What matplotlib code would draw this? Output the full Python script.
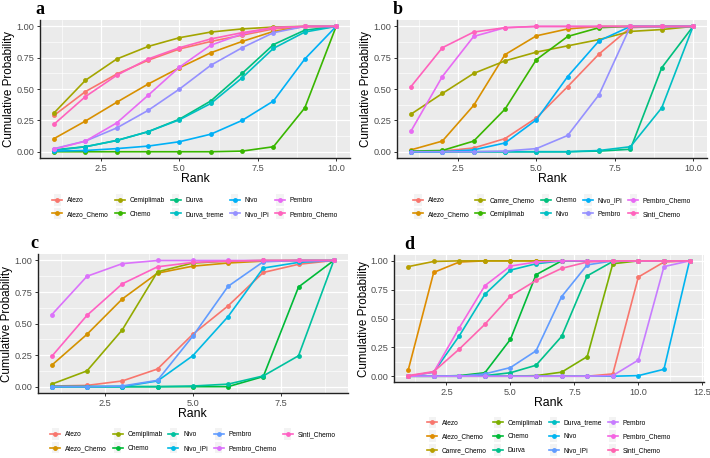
import numpy as np
import matplotlib.pyplot as plt
from matplotlib.legend_handler import HandlerLine2D
from matplotlib.patches import Rectangle
from matplotlib.ticker import MultipleLocator

plt.rcParams['font.family'] = ['Liberation Sans', 'DejaVu Sans']

#######
# DATA
#######
names_a = ["Atezo", "Atezo_Chemo", "Cemiplimab", "Chemo", "Durva", "Durva_treme",
           "Nivo", "Nivo_IPi", "Pembro", "Pembro_Chemo"]
colors_a = ["#F8766D", "#D89000", "#A3A500", "#39B600", "#00BF7D", "#00BFC4",
            "#00B0F6", "#9590FF", "#E76BF3", "#FF62BC"]
vals_a = [
    [0.29, 0.48, 0.62, 0.73, 0.82, 0.88, 0.93, 0.98, 1.0, 1.0],
    [0.105, 0.245, 0.395, 0.54, 0.67, 0.79, 0.88, 0.96, 1.0, 1.0],
    [0.31, 0.57, 0.74, 0.84, 0.91, 0.955, 0.98, 0.995, 1.0, 1.0],
    [0.0, 0.0, 0.0, 0.0, 0.0, 0.0, 0.005, 0.04, 0.35, 1.0],
    [0.015, 0.04, 0.09, 0.16, 0.26, 0.405, 0.625, 0.855, 0.97, 1.0],
    [0.01, 0.04, 0.09, 0.16, 0.255, 0.385, 0.59, 0.825, 0.955, 1.0],
    [0.005, 0.01, 0.025, 0.045, 0.08, 0.14, 0.25, 0.405, 0.74, 1.0],
    [0.025, 0.085, 0.19, 0.33, 0.50, 0.69, 0.83, 0.95, 1.0, 1.0],
    [0.02, 0.085, 0.23, 0.45, 0.675, 0.85, 0.94, 0.99, 1.0, 1.0],
    [0.22, 0.44, 0.61, 0.74, 0.83, 0.90, 0.95, 0.99, 1.0, 1.0],
]

names_b = ["Atezo", "Atezo_Chemo", "Camre_Chemo", "Cemiplimab", "Chemo", "Nivo",
           "Nivo_IPi", "Pembro", "Pembro_Chemo", "Sinti_Chemo"]
colors_b = colors_a
vals_b = [
    [0.0, 0.005, 0.03, 0.105, 0.27, 0.52, 0.78, 0.99, 1.0, 1.0],
    [0.015, 0.085, 0.37, 0.775, 0.925, 0.98, 1.0, 1.0, 1.0, 1.0],
    [0.30, 0.465, 0.625, 0.725, 0.795, 0.845, 0.895, 0.96, 0.975, 1.0],
    [0.005, 0.01, 0.085, 0.34, 0.735, 0.92, 0.99, 1.0, 1.0, 1.0],
    [0.0, 0.0, 0.0, 0.0, 0.0, 0.0, 0.005, 0.02, 0.67, 1.0],
    [0.0, 0.0, 0.0, 0.0, 0.0, 0.0, 0.01, 0.04, 0.35, 1.0],
    [0.0, 0.0, 0.015, 0.07, 0.255, 0.60, 0.885, 1.0, 1.0, 1.0],
    [0.0, 0.0, 0.0, 0.005, 0.025, 0.13, 0.455, 1.0, 1.0, 1.0],
    [0.165, 0.60, 0.92, 0.99, 1.0, 1.0, 1.0, 1.0, 1.0, 1.0],
    [0.52, 0.83, 0.955, 0.99, 1.0, 1.0, 1.0, 1.0, 1.0, 1.0],
]

names_c = ["Atezo", "Atezo_Chemo", "Cemiplimab", "Chemo", "Nivo", "Nivo_IPi",
           "Pembro", "Pembro_Chemo", "Sinti_Chemo"]
colors_c = ["#F8766D", "#D39200", "#93AA00", "#00BA38", "#00C19F", "#00B9E3",
            "#619CFF", "#DB72FB", "#FF61C3"]
vals_c = [
    [0.005, 0.01, 0.045, 0.14, 0.415, 0.64, 0.905, 0.97, 1.0],
    [0.17, 0.415, 0.695, 0.90, 0.955, 0.98, 0.995, 1.0, 1.0],
    [0.02, 0.125, 0.45, 0.91, 0.98, 0.995, 1.0, 1.0, 1.0],
    [0.0, 0.0, 0.0, 0.0, 0.0, 0.0, 0.08, 0.79, 1.0],
    [0.0, 0.0, 0.0, 0.0, 0.005, 0.02, 0.085, 0.245, 1.0],
    [0.0, 0.0, 0.0, 0.045, 0.245, 0.555, 0.94, 0.985, 1.0],
    [0.0, 0.0, 0.005, 0.05, 0.40, 0.795, 0.99, 1.0, 1.0],
    [0.57, 0.875, 0.975, 1.0, 1.0, 1.0, 1.0, 1.0, 1.0],
    [0.24, 0.565, 0.815, 0.95, 0.985, 0.995, 1.0, 1.0, 1.0],
]

names_d = ["Atezo", "Atezo_Chemo", "Camre_Chemo", "Cemiplimab", "Chemo", "Durva",
           "Durva_treme", "Nivo", "Nivo_IPi", "Pembro", "Pembro_Chemo", "Sinti_Chemo"]
colors_d = ["#F8766D", "#DE8C00", "#B79F00", "#7CAE00", "#00BA38", "#00C08B",
            "#00BFC4", "#00B4F0", "#619CFF", "#C77CFF", "#F564E3", "#FF64B0"]
vals_d = [
    [0, 0, 0, 0, 0, 0, 0, 0, 0.02, 0.86, 0.99, 1.0],
    [0.05, 0.90, 0.99, 1.0, 1.0, 1.0, 1.0, 1.0, 1.0, 1.0, 1.0, 1.0],
    [0.95, 0.995, 1.0, 1.0, 1.0, 1.0, 1.0, 1.0, 1.0, 1.0, 1.0, 1.0],
    [0, 0, 0, 0, 0, 0.005, 0.035, 0.17, 0.975, 1.0, 1.0, 1.0],
    [0, 0, 0.005, 0.03, 0.32, 0.88, 1.0, 1.0, 1.0, 1.0, 1.0, 1.0],
    [0, 0, 0, 0.005, 0.03, 0.095, 0.345, 0.87, 0.995, 1.0, 1.0, 1.0],
    [0.0, 0.035, 0.35, 0.71, 0.92, 0.975, 1.0, 1.0, 1.0, 1.0, 1.0, 1.0],
    [0, 0, 0, 0, 0, 0, 0, 0, 0, 0.005, 0.06, 1.0],
    [0, 0, 0, 0.02, 0.075, 0.22, 0.69, 0.965, 1.0, 1.0, 1.0, 1.0],
    [0, 0, 0, 0, 0, 0, 0, 0, 0.005, 0.14, 0.95, 1.0],
    [0.0, 0.035, 0.42, 0.785, 0.955, 0.99, 1.0, 1.0, 1.0, 1.0, 1.0, 1.0],
    [0.005, 0.04, 0.235, 0.45, 0.695, 0.83, 0.935, 0.99, 1.0, 1.0, 1.0, 1.0],
]


#######
# LEGEND KEY WITH GREY BOX (like ggplot)
#######
class KeyHandler(HandlerLine2D):
    def create_artists(self, legend, orig_handle, xdescent, ydescent,
                       width, height, fontsize, trans):
        arts = super().create_artists(legend, orig_handle, xdescent, ydescent,
                                      width, height, fontsize, trans)
        box = Rectangle((-xdescent + 1, -ydescent - 2.5), width - 2, height + 5,
                        facecolor="#F3F3F3", edgecolor="none", transform=trans)
        return [box] + list(arts)


def draw_panel(fig, rect, names, colors, vals, label, ncol, leg_y, label_dx=0.0):
    ax = fig.add_axes(rect)
    n = len(vals[0])
    ranks = np.arange(1, n + 1)
    handles = []
    for name, col, v in zip(names, colors, vals):
        h, = ax.plot(ranks, v, color=col, lw=1.2, marker="o", ms=3.5,
                     markeredgewidth=0, label=name)
        handles.append(h)

    ax.set_facecolor("#EBEBEB")
    span = n - 1
    ax.set_xlim(1 - 0.05 * span, n + 0.05 * span)
    ax.set_ylim(-0.05, 1.05)
    ax.xaxis.set_major_locator(MultipleLocator(2.5))
    ax.xaxis.set_minor_locator(MultipleLocator(1.25))
    ax.yaxis.set_major_locator(MultipleLocator(0.25))
    ax.yaxis.set_minor_locator(MultipleLocator(0.125))
    ax.xaxis.set_major_formatter(lambda x, p: "%.1f" % x)
    ax.yaxis.set_major_formatter(lambda y, p: "%.2f" % y)
    ax.grid(which="major", color="white", lw=0.9)
    ax.grid(which="minor", color="white", lw=0.45)
    ax.set_axisbelow(True)
    for s in ["top", "right"]:
        ax.spines[s].set_visible(False)
    for s in ["left", "bottom"]:
        ax.spines[s].set_color("#222222")
        ax.spines[s].set_linewidth(1.0)
    ax.tick_params(which="major", length=2.5, width=0.7, color="#333333",
                   labelsize=6.6, labelcolor="#4D4D4D", pad=1.5)
    ax.tick_params(which="minor", length=0)
    ax.set_xlabel("Rank", fontsize=8.8, labelpad=0)
    ax.set_ylabel("Cumulative Probability", fontsize=8.4, labelpad=0.8)

    pos = ax.get_position()
    fig.text(pos.x0 - 0.006 + label_dx, pos.y1 + 0.013, label, fontsize=13,
             fontweight="bold", family="Liberation Serif", va="baseline")

    fig.legend(handles=handles, loc="center", ncol=ncol,
               bbox_to_anchor=((pos.x0 + pos.x1) / 2, leg_y),
               frameon=False, fontsize=4.8, handlelength=1.5, handletextpad=0.7,
               columnspacing=0.9, labelspacing=1.0, borderpad=0.2,
               handler_map={plt.Line2D: KeyHandler()})
    return ax


fig = plt.figure(figsize=(7.10, 4.58), dpi=100)

draw_panel(fig, [0.0563, 0.655, 0.437, 0.301], names_a, colors_a, vals_a, "a", 5, 0.547)
draw_panel(fig, [0.559, 0.655, 0.437, 0.301], names_b, colors_b, vals_b, "b", 5, 0.547)
draw_panel(fig, [0.053, 0.142, 0.437, 0.303], names_c, colors_c, vals_c, "c", 5, 0.036,
           label_dx=-0.004)
draw_panel(fig, [0.555, 0.166, 0.436, 0.277], names_d, colors_d, vals_d, "d", 4, 0.046,
           label_dx=0.02)

fig.savefig("out.png", dpi=100)
